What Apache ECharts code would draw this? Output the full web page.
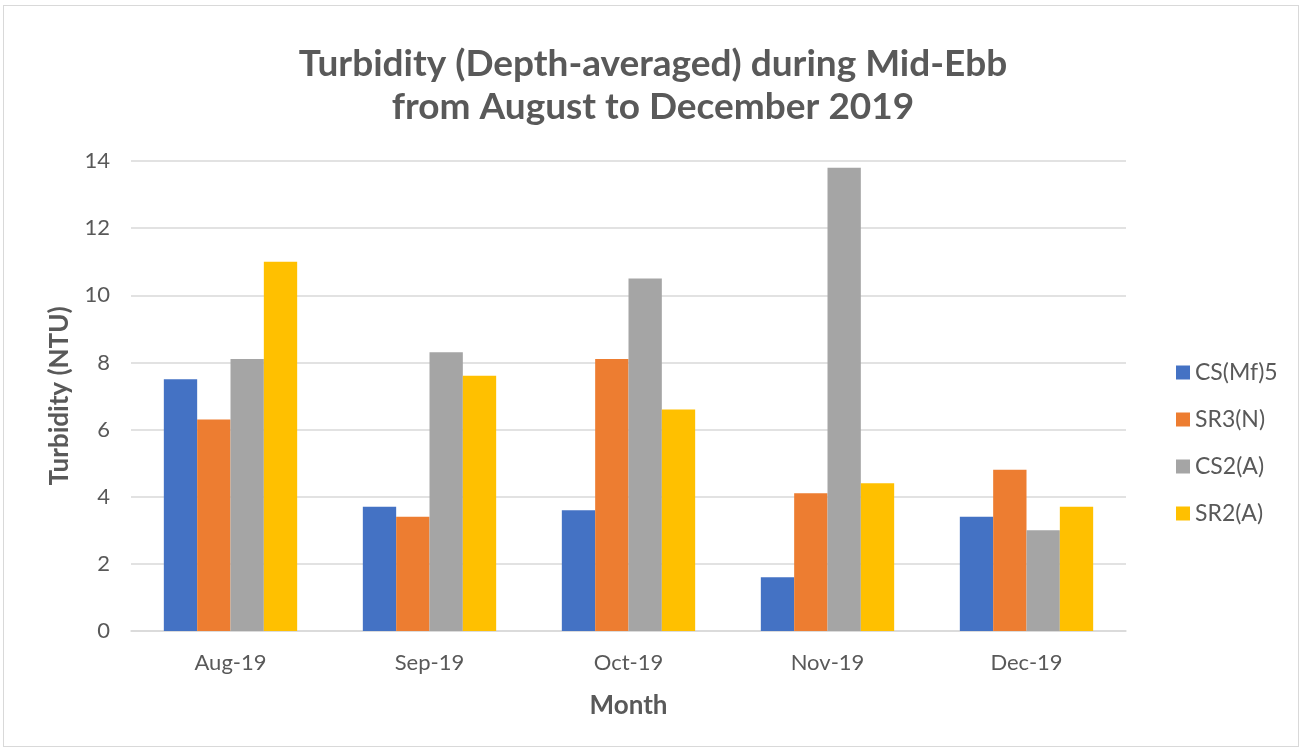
<!DOCTYPE html>
<html>
<head>
<meta charset="utf-8">
<script src="https://cdn.jsdelivr.net/npm/echarts@6/dist/echarts.min.js"></script>
<style>
html,body{margin:0;padding:0;background:#fff;}
#frame{position:absolute;left:3px;top:5px;width:1296px;height:742px;border:1px solid #d9d9d9;box-sizing:border-box;}
#chart{position:absolute;left:0;top:0;width:1306px;height:754px;}
</style>
</head>
<body>
<div id="frame"></div>
<div id="chart"></div>
<script>
const categories = ['Aug-19', 'Sep-19', 'Oct-19', 'Nov-19', 'Dec-19'];
const seriesNames = ['CS(Mf)5', 'SR3(N)', 'CS2(A)', 'SR2(A)'];
const csMf5 = [7.5, 3.7, 3.6, 1.6, 3.4];
const sr3N = [6.3, 3.4, 8.1, 4.1, 4.8];
const cs2A = [8.1, 8.3, 10.5, 13.8, 3.0];
const sr2A = [11.0, 7.6, 6.6, 4.4, 3.7];
const colors = ['#4472c4', '#ed7d31', '#a5a5a5', '#ffc000'];
const allValues = [csMf5, sr3N, cs2A, sr2A];

const font = 'Lato, "Open Sans", sans-serif';
const chart = echarts.init(document.getElementById('chart'), null, {renderer: 'canvas'});
chart.setOption({
  backgroundColor: 'transparent',
  animation: false,
  title: {
    text: 'Turbidity (Depth-averaged) during Mid-Ebb\nfrom August to December 2019',
    left: 'center',
    top: 38,
    textStyle: {fontFamily: font, fontSize: 37, fontWeight: 'bold', color: '#595959', lineHeight: 43}
  },
  legend: {
    orient: 'vertical',
    left: 1171,
    top: 356,
    itemWidth: 14,
    itemHeight: 14,
    itemGap: 24,
    icon: 'rect',
    textStyle: {fontFamily: font, fontSize: 23, color: '#595959', lineHeight: 23},
    data: seriesNames
  },
  grid: {left: 131, right: 180, top: 161, bottom: 123, containLabel: false},
  xAxis: {
    type: 'category',
    data: categories,
    name: 'Month',
    nameLocation: 'middle',
    nameGap: 62,
    nameTextStyle: {fontFamily: font, fontSize: 26, fontWeight: 'bold', color: '#595959'},
    axisLine: {lineStyle: {color: '#d9d9d9', width: 1.5}},
    axisTick: {show: false},
    axisLabel: {fontFamily: font, fontSize: 22, color: '#595959', margin: 21}
  },
  yAxis: {
    type: 'value',
    min: 0, max: 14, interval: 2,
    name: 'Turbidity (NTU)',
    nameLocation: 'middle',
    nameGap: 58,
    nameRotate: 90,
    nameTextStyle: {fontFamily: font, fontSize: 26, fontWeight: 'bold', color: '#595959'},
    axisLine: {show: false},
    axisTick: {show: false},
    splitLine: {lineStyle: {color: '#d9d9d9', width: 1.5}},
    axisLabel: {fontFamily: font, fontSize: 22, color: '#595959', margin: 21}
  },
  series: seriesNames.map((n, i) => ({
    name: n,
    type: 'bar',
    data: allValues[i],
    barGap: '0%',
    barCategoryGap: '33%',
    itemStyle: {color: colors[i]}
  }))
});
</script>
</body>
</html>
